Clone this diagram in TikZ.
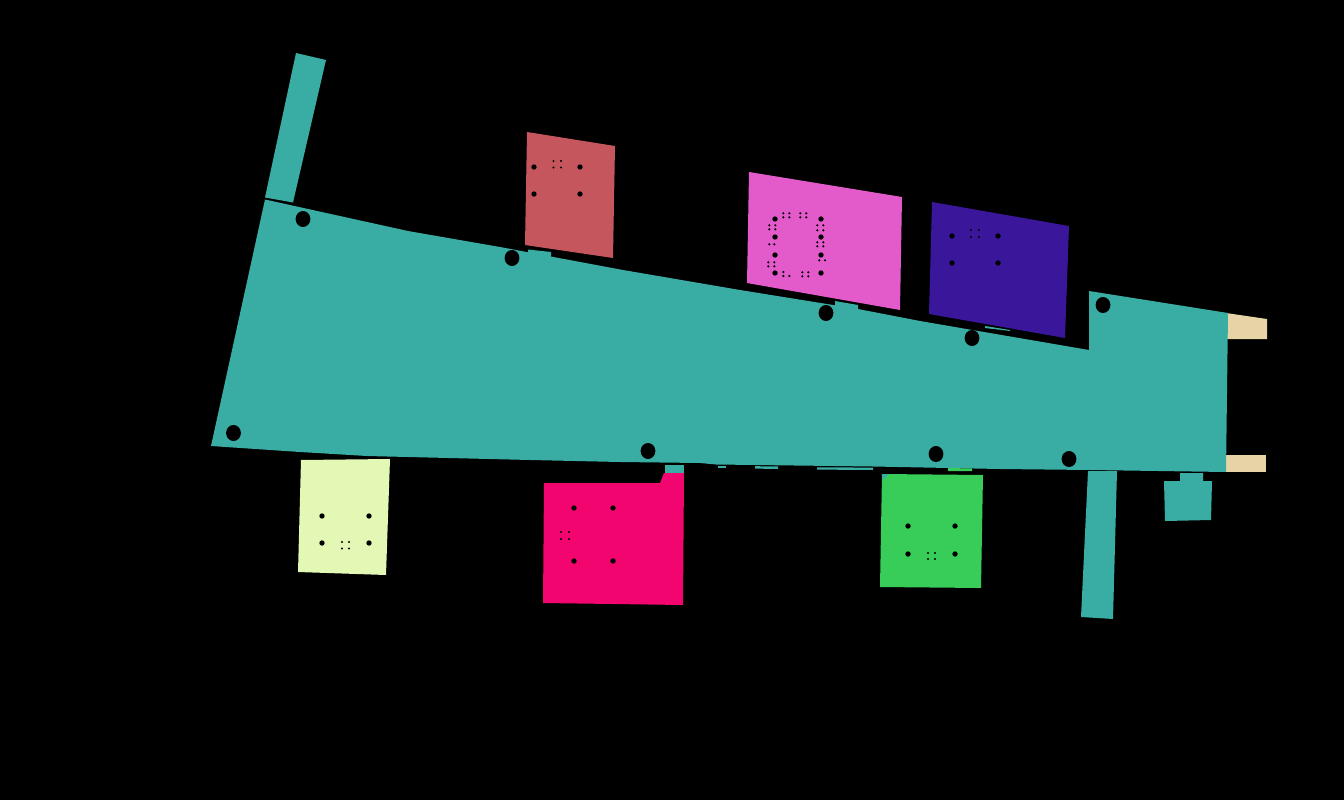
\documentclass[tikz,border=0pt]{standalone}
\definecolor{tealc}{HTML}{39ADA4}
\definecolor{beigec}{HTML}{E6D3A6}
\definecolor{redc}{HTML}{C5565E}
\definecolor{magc}{HTML}{E35BCB}
\definecolor{purc}{HTML}{3A169A}
\definecolor{yelc}{HTML}{E4F8B6}
\definecolor{pinkc}{HTML}{F30570}
\definecolor{grnc}{HTML}{38CD58}
\tikzset{
  bighole/.style={fill=black},
  body/.style={fill=tealc},
  tab/.style={fill=beigec},
}
\newcommand{\bolt}[2]{\fill[bighole] (#1,#2) circle [x radius=7.4, y radius=8];}
\newcommand{\hl}[2]{\fill[bighole] (#1,#2) circle [radius=2.7];}
\newcommand{\sm}[2]{\fill[bighole] (#1,#2) circle [radius=1.2];}
\begin{document}
\begin{tikzpicture}[x=1pt,y=-1pt]
\useasboundingbox (0,0) rectangle (1344,800);
\fill[black] (0,0) rectangle (1344,800);
% tabs
\fill[tab] (1226,313) -- (1267,319) -- (1267,339) -- (1226,339) -- cycle;
\fill[tab] (1225,455) -- (1266,455) -- (1266,472) -- (1225,472) -- cycle;
% main body
\fill[body] (265,199.5) -- (408,231) -- (500,247) -- (623,270) -- (740,290) -- (858,309) -- (920,321) -- (1089,350)
  -- (1089,291) -- (1228,313) -- (1226,472) -- (1090,470) -- (1000,469) -- (873,466.5) -- (716,464.5) -- (700,463)
  -- (620,462) -- (530,460) -- (367,456) -- (300,452) -- (211,446) -- cycle;
% top strip
\fill[body] (296,53) -- (326,60) -- (293,202.5) -- (265,197.5) -- cycle;
% lower strip
\fill[body] (1088,471) -- (1117,471) -- (1113,619) -- (1081,617) -- cycle;
% small box
\fill[body] (1180,473) -- (1203,473) -- (1203,481) -- (1212,481) -- (1211,520) -- (1165,521) -- (1164,481) -- (1180,481) -- cycle;
% slivers
\fill[body] (528,249.5) -- (551,252) -- (551,258) -- (528,256) -- cycle;
\fill[body] (835,301) -- (858,305) -- (858,311) -- (835,307) -- cycle;
\fill[body] (985,326) -- (1010,330) -- (1010,331) -- (985,328) -- cycle;
\fill[body] (665,465) -- (684,465) -- (684,473) -- (665,473) -- cycle;
\fill[body] (718,465.7) -- (726,465.7) -- (726,468) -- (718,468) -- cycle;
\fill[body] (755,466.2) -- (778,466.4) -- (778,469) -- (755,468.6) -- cycle;
\fill[body] (817,467.3) -- (873,467.6) -- (873,470) -- (817,469.6) -- cycle;
% green sliver
\fill[grnc] (948,468) -- (972,468.5) -- (972,471) -- (948,471) -- cycle;
% cards
\fill[redc] (527,132) -- (615,146) -- (613,258) -- (525,245) -- cycle;
\fill[magc] (749,172) -- (902,197) -- (900,310) -- (747,283) -- cycle;
\fill[purc] (932,202) -- (1069,226) -- (1065,338) -- (929,314) -- cycle;
\fill[yelc] (301,460) -- (390,459) -- (386,575) -- (298,572) -- cycle;
\fill[pinkc] (544,483) -- (660,483) -- (664,473) -- (684,473) -- (683,605) -- (543,603) -- cycle;
\fill[grnc] (882,474) -- (983,475) -- (981,588) -- (880,587) -- cycle;
\fill[body] (882,474) -- (889,474) -- (882,480) -- cycle;
% bolts in body
\bolt{303}{219}\bolt{512}{258}\bolt{826}{313}\bolt{972}{338}\bolt{1103}{305}
\bolt{233.5}{433}\bolt{648}{451}\bolt{936}{454}\bolt{1069}{459}
% red card holes
\hl{534}{167}\hl{580}{167}\hl{534}{194}\hl{580}{194}
\sm{553.5}{161}\sm{561}{161}\sm{553.5}{167.5}\sm{561}{167.5}
% magenta holes
\foreach \y in {219,237,255,273}{\hl{775}{\y}\hl{821}{\y}}
\sm{783.3}{213.3}\sm{789.3}{213.3}\sm{783.3}{217.3}\sm{789.3}{217.3}
\sm{800.3}{213.3}\sm{806.3}{213.3}\sm{800.3}{217.3}\sm{806.3}{217.3}
\sm{769.3}{225.3}\sm{775.3}{225.3}\sm{769.3}{229.3}\sm{775.3}{229.3}
\sm{769.3}{244.3}\sm{774.3}{244.3}
\sm{768.3}{262.3}\sm{774.3}{262.3}\sm{768.3}{266.3}\sm{774.3}{266.3}
\sm{817.3}{225.3}\sm{823.3}{225.3}\sm{817.3}{230.3}\sm{823.3}{230.3}
\sm{817.3}{242.3}\sm{823.3}{242.3}\sm{817.3}{246.3}\sm{823.3}{246.3}
\sm{819.3}{260.3}\sm{825}{260.3}
\sm{783.3}{272}\sm{783.3}{276}\sm{789.3}{276}
\sm{802.3}{272.3}\sm{808.3}{272.3}\sm{802.3}{276.3}\sm{808.3}{276.3}
% purple holes
\hl{952}{236}\hl{998}{236}\hl{952}{263}\hl{998}{263}
\sm{971}{230}\sm{979}{230}\sm{971}{237}\sm{979}{237}
% yellow holes
\hl{322}{516}\hl{369}{516}\hl{322}{543}\hl{369}{543}
\sm{342}{542}\sm{349}{542}\sm{342}{548.5}\sm{349}{548.5}
% pink holes
\hl{574}{508}\hl{613}{508}\hl{574}{561}\hl{613}{561}
\sm{561}{532}\sm{569}{532}\sm{561}{539}\sm{569}{539}
% green holes
\hl{908}{526}\hl{955}{526}\hl{908}{554}\hl{955}{554}
\sm{928}{553}\sm{935}{553}\sm{928}{559}\sm{935}{559}
\end{tikzpicture}
\end{document}
